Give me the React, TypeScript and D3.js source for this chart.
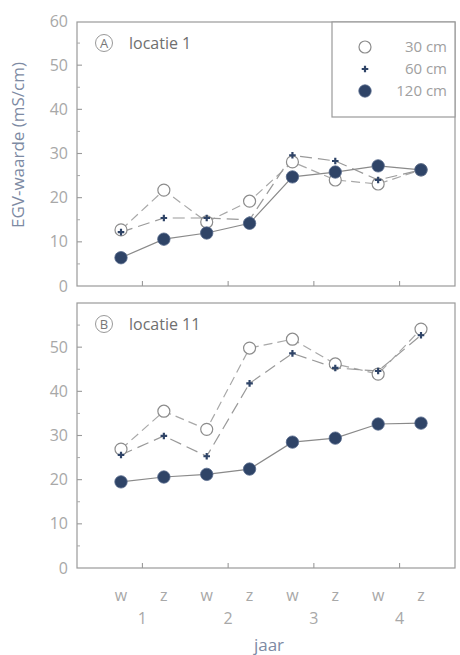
import React, { useEffect, useRef } from 'react';
import * as d3 from 'd3';

const seasons = ['w', 'z', 'w', 'z', 'w', 'z', 'w', 'z'];
const years = ['1', '2', '3', '4'];
const depths = ['30 cm', '60 cm', '120 cm'];

// locatie 1
const loc1_30 = [12.7, 21.7, 14.5, 19.2, 28.1, 24.0, 23.1, 26.3];
const loc1_60 = [12.2, 15.4, 15.4, 15.0, 29.6, 28.3, 24.0, 26.3];
const loc1_120 = [6.4, 10.6, 12.0, 14.2, 24.7, 25.8, 27.2, 26.3];

// locatie 11
const loc11_30 = [26.9, 35.5, 31.4, 49.8, 51.8, 46.2, 43.9, 54.1];
const loc11_60 = [25.6, 29.9, 25.3, 41.8, 48.6, 45.3, 44.6, 52.7];
const loc11_120 = [19.5, 20.6, 21.2, 22.4, 28.5, 29.4, 32.6, 32.8];

const yTicks = [0, 10, 20, 30, 40, 50, 60];

const FONT = '"Open Sans", "Noto Sans", sans-serif';
const NAVY = '#2f4467';

const App = () => {
  const ref = useRef(null);

  useEffect(() => {
    const svg = d3.select(ref.current);
    svg.selectAll('*').remove();

    const left = 77;
    const right = 455;
    const x = d3.scalePoint<number>().domain(d3.range(8)).range([121, 421]);

    const drawPanel = (top: number, bottom: number, letter: string, title: string,
      s30: number[], s60: number[], s120: number[], showTop: boolean, legend: boolean) => {
      const y = d3.scaleLinear().domain([0, 60]).range([bottom, bottom - 265]);
      const g = svg.append('g');

      // frame
      g.append('rect').attr('x', left).attr('y', top).attr('width', right - left).attr('height', bottom - top)
        .attr('fill', 'none').attr('stroke', '#9a9a9a').attr('stroke-width', 1.2);

      // y ticks
      const minor = d3.range(5, 60, 10);
      g.selectAll('.maj').data(yTicks.filter(t => t > 0 && t < 60)).enter().append('line')
        .attr('x1', left).attr('x2', left + 5).attr('y1', d => y(d)).attr('y2', d => y(d))
        .attr('stroke', '#9a9a9a').attr('stroke-width', 1.1);
      g.selectAll('.min').data(minor).enter().append('line')
        .attr('x1', left).attr('x2', left + 3).attr('y1', d => y(d)).attr('y2', d => y(d))
        .attr('stroke', '#aaa').attr('stroke-width', 1);
      g.selectAll('.yl').data(yTicks.filter(t => showTop || t < 60)).enter().append('text')
        .attr('x', 68).attr('y', d => y(d)).attr('dy', '0.35em').attr('text-anchor', 'end')
        .attr('font-family', FONT).attr('font-size', 16).attr('fill', '#a8a8a8').text(d => d);

      // x ticks between seasons of a year
      g.selectAll('.xt').data(years).enter().append('line')
        .attr('x1', (d, i) => ((x(i * 2) as number) + (x(i * 2 + 1) as number)) / 2)
        .attr('x2', (d, i) => ((x(i * 2) as number) + (x(i * 2 + 1) as number)) / 2)
        .attr('y1', bottom).attr('y2', bottom - 5).attr('stroke', '#9a9a9a').attr('stroke-width', 1.1);

      // panel title
      g.append('circle').attr('cx', 104).attr('cy', top + 21).attr('r', 8.5)
        .attr('fill', 'none').attr('stroke', '#999').attr('stroke-width', 1);
      g.append('text').attr('x', 104).attr('y', top + 21).attr('dy', '0.36em').attr('text-anchor', 'middle')
        .attr('font-family', FONT).attr('font-size', 13).attr('fill', '#777').text(letter);
      g.append('text').attr('x', 129).attr('y', top + 21).attr('dy', '0.36em')
        .attr('font-family', FONT).attr('font-size', 16).attr('fill', '#6f6f6f').text(title);

      const line = d3.line<number>().x((d, i) => x(i) as number).y(d => y(d));

      g.append('path').datum(s30).attr('d', line).attr('fill', 'none')
        .attr('stroke', '#a8a8a8').attr('stroke-width', 1.2).attr('stroke-dasharray', '9,5');
      g.append('path').datum(s60).attr('d', line).attr('fill', 'none')
        .attr('stroke', '#9a9a9a').attr('stroke-width', 1.2).attr('stroke-dasharray', '12,6');
      g.append('path').datum(s120).attr('d', line).attr('fill', 'none')
        .attr('stroke', '#8a8a8a').attr('stroke-width', 1.2);

      const cross = d3.symbol().type(d3.symbolCross).size(24);

      g.selectAll('.c30').data(s30).enter().append('circle')
        .attr('cx', (d, i) => x(i) as number).attr('cy', d => y(d)).attr('r', 6)
        .attr('fill', '#fff').attr('stroke', '#8c8c8c').attr('stroke-width', 1.2);
      g.selectAll('.c60').data(s60).enter().append('path').attr('d', cross)
        .attr('transform', (d, i) => `translate(${x(i)},${y(d)})`).attr('fill', NAVY);
      g.selectAll('.c120').data(s120).enter().append('circle')
        .attr('cx', (d, i) => x(i) as number).attr('cy', d => y(d)).attr('r', 6.2)
        .attr('fill', NAVY).attr('stroke', '#56688a').attr('stroke-width', 0.8);

      if (legend) {
        g.append('rect').attr('x', 332).attr('y', top).attr('width', right - 332).attr('height', 95)
          .attr('fill', '#fff').attr('stroke', '#9a9a9a').attr('stroke-width', 1.2);
        const ly = d3.scalePoint<string>().domain(depths).range([top + 25, top + 69]);
        g.append('circle').attr('cx', 365).attr('cy', ly(depths[0]) as number).attr('r', 6)
          .attr('fill', '#fff').attr('stroke', '#8c8c8c').attr('stroke-width', 1.2);
        g.append('path').attr('d', cross).attr('transform', `translate(365,${ly(depths[1])})`).attr('fill', NAVY);
        g.append('circle').attr('cx', 365).attr('cy', ly(depths[2]) as number).attr('r', 6.2)
          .attr('fill', NAVY).attr('stroke', '#56688a').attr('stroke-width', 0.8);
        g.selectAll('.lt').data(depths).enter().append('text')
          .attr('x', 447).attr('y', d => ly(d) as number).attr('dy', '0.35em').attr('text-anchor', 'end')
          .attr('font-family', FONT).attr('font-size', 15).attr('fill', '#a0a0a0').text(d => d);
      }
      return g;
    };

    drawPanel(22, 286, 'A', 'locatie 1', loc1_30, loc1_60, loc1_120, true, true);
    const gb = drawPanel(303, 568, 'B', 'locatie 11', loc11_30, loc11_60, loc11_120, false, false);

    // x labels
    gb.selectAll('.sl').data(seasons).enter().append('text')
      .attr('x', (d, i) => x(i) as number).attr('y', 595).attr('dy', '0.35em').attr('text-anchor', 'middle')
      .attr('font-family', FONT).attr('font-size', 16).attr('fill', '#a8a8a8').text(d => d);
    gb.selectAll('.yr').data(years).enter().append('text')
      .attr('x', (d, i) => ((x(i * 2) as number) + (x(i * 2 + 1) as number)) / 2).attr('y', 618)
      .attr('dy', '0.35em').attr('text-anchor', 'middle')
      .attr('font-family', FONT).attr('font-size', 16).attr('fill', '#a8a8a8').text(d => d);

    svg.append('text').attr('x', 269).attr('y', 645).attr('dy', '0.35em').attr('text-anchor', 'middle')
      .attr('font-family', FONT).attr('font-size', 17).attr('fill', '#7d8aa3').text('jaar');
    svg.append('text').attr('transform', 'translate(18,145) rotate(-90)').attr('dy', '0.35em')
      .attr('text-anchor', 'middle').attr('font-family', FONT).attr('font-size', 17).attr('fill', '#7d8aa3')
      .text('EGV-waarde (mS/cm)');
  }, []);

  return (
    <div>
      <svg ref={ref} width={460} height={655} style={{ position: 'absolute', left: 0, top: 0, background: '#fff' }}></svg>
    </div>
  );
};

export default App;
